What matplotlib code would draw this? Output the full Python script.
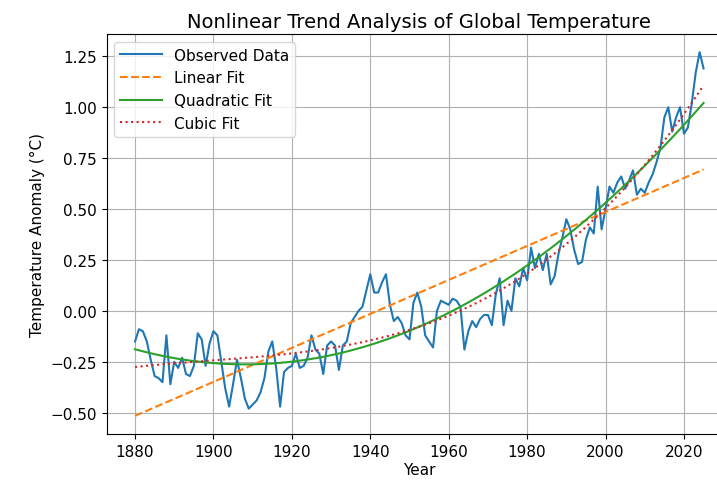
import numpy as np
import matplotlib
matplotlib.use('Agg')
import matplotlib.pyplot as plt

years = np.arange(1880, 2026)
anomaly = [
    -0.15, -0.09, -0.10, -0.15, -0.24, -0.32, -0.33, -0.35, -0.12, -0.36,  # 1880
    -0.25, -0.28, -0.23, -0.31, -0.32, -0.27, -0.11, -0.14, -0.27, -0.16,  # 1890
    -0.10, -0.12, -0.25, -0.38, -0.47, -0.36, -0.24, -0.33, -0.43, -0.48,  # 1900
    -0.46, -0.44, -0.40, -0.33, -0.20, -0.15, -0.28, -0.47, -0.30, -0.28,  # 1910
    -0.27, -0.21, -0.28, -0.27, -0.23, -0.12, -0.19, -0.21, -0.31, -0.17,  # 1920
    -0.15, -0.17, -0.29, -0.17, -0.15, -0.06, -0.03, 0.00, 0.02, 0.10,     # 1930
    0.18, 0.09, 0.09, 0.14, 0.18, 0.03, -0.05, -0.03, -0.06, -0.12,        # 1940
    -0.14, 0.04, 0.09, 0.02, -0.12, -0.15, -0.18, 0.00, 0.05, 0.04,        # 1950
    0.03, 0.06, 0.05, 0.02, -0.19, -0.10, -0.05, -0.08, -0.04, -0.02,      # 1960
    -0.02, -0.07, 0.08, 0.16, -0.07, 0.05, 0.00, 0.16, 0.12, 0.21,         # 1970
    0.15, 0.31, 0.21, 0.28, 0.20, 0.28, 0.13, 0.17, 0.28, 0.36,            # 1980
    0.45, 0.40, 0.30, 0.23, 0.24, 0.35, 0.41, 0.38, 0.61, 0.40,            # 1990
    0.50, 0.61, 0.58, 0.63, 0.66, 0.60, 0.64, 0.69, 0.57, 0.60,            # 2000
    0.58, 0.63, 0.67, 0.73, 0.80, 0.95, 1.00, 0.88, 0.95, 1.00,            # 2010
    0.87, 0.90, 1.02, 1.17, 1.27, 1.19,                                    # 2020
]
anomaly = np.array(anomaly)

# Ajustes polinomiais
fits = {}
for grau in (1, 2, 3):
    coef = np.polyfit(years, anomaly, grau)
    fits[grau] = np.polyval(coef, years)

fig = plt.figure(figsize=(7.17, 4.81), dpi=100)
# o recorte original corta a borda direita do eixo
ax = fig.add_axes([0.1487, 0.0956, 0.8722, 0.8316])

ax.plot(years, anomaly, label='Observed Data', linewidth=1.5)
ax.plot(years, fits[1], '--', label='Linear Fit', linewidth=1.5)
ax.plot(years, fits[2], '-', label='Quadratic Fit', linewidth=1.5)
ax.plot(years, fits[3], ':', label='Cubic Fit', linewidth=1.5)

ax.set_xticks(range(1880, 2021, 20))
ax.tick_params(labelsize=11)
ax.set_xlabel('Year', fontsize=11, labelpad=2)
ax.set_ylabel('Temperature Anomaly (°C)', fontsize=11)
ax.set_title('Nonlinear Trend Analysis of Global Temperature', fontsize=14, pad=5)
ax.legend(loc='upper left', fontsize=11, handlelength=2.7)
ax.grid(True)

fig.savefig('out.png', dpi=100)
